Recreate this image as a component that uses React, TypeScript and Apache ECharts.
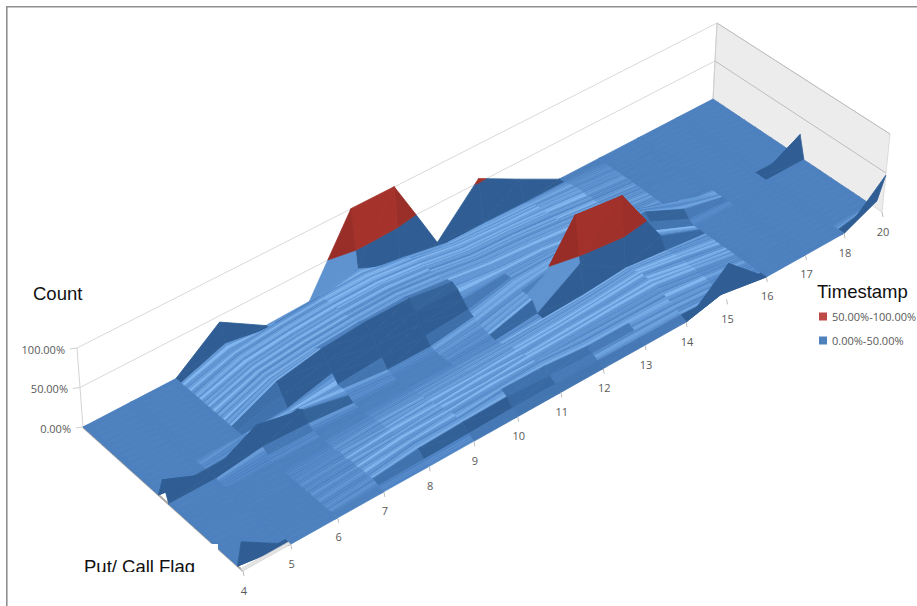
import React, { useEffect, useRef } from "react";
import * as echarts from "echarts";

const timestamps = [4, 5, 6, 7, 8, 9, 10, 11, 12, 13, 14, 15, 16, 17, 18, 20];
const countTicks = ["0.00%", "50.00%", "100.00%"];
const countValues = [0, 50, 100];
const legendNames = ["50.00%-100.00%", "0.00%-50.00%"];

// Surface height (percent), one row per Put/Call flag step from the back edge to the front edge.
const heights: number[][] = [
  [0, 0, 0, 42, 8, 10, 100, 100, 0, 55, 27, 0, 0, 0, 0, 0],
  [0, 0, 0, 20, 10, 12, 28, 3, 1, 2, 1, 1, 0, 0, 0, 0],
  [0, 0, 0, 16, 22, 26, 28, 20, 10, 8, 6, 3, 0, 0, 0, 0],
  [0, 0, 0, 18, 24, 28, 29, 23, 13, 10, 8, 5, 0, 0, 0, 0],
  [0, 0, 0, 20, 26, 30, 31, 25, 16, 12, 10, 6, 1, 0, 0, 0],
  [0, 0, 0, 17, 24, 28, 29, 24, 15, 13, 9, 4, 0, 0, 0, 0],
  [0, 0, 0, 20, 27, 31, 33, 27, 18, 16, 12, 6, 1, 0, 0, 0],
  [0, 0, 0, 18, 25, 29, 30, 26, 17, 15, 10, 5, 0, 0, 0, 0],
  [0, 0, 0, 22, 29, 33, 35, 29, 21, 18, 13, 7, 1, 0, 0, 0],
  [0, 0, 0, 20, 27, 31, 33, 27, 20, 17, 12, 6, 0, 0, 0, 0],
  [0, 0, 0, 24, 33, 37, 38, 32, 24, 20, 15, 7, 0, 0, 0, 0],
  [0, 0, 0, 26, 37, 42, 42, 34, 26, 22, 15, 5, 0, 0, 0, 0],
  [0, 0, 0, 14, 27, 32, 30, 30, 25, 24, 16, 6, 0, 0, 0, 0],
  [0, 0, 0, 3, 17, 22, 20, 22, 26, 25, 19, 8, 0, 0, 0, 0],
  [0, 0, 8, 6, 8, 12, 10, 14, 26, 27, 22, 8, 2, 0, 0, 0],
  [0, 0, 2, 14, 8, 2, 2, 10, 24, 28, 30, 35, 18, 0, 0, 0],
  [25, 0, 30, 18, 5, 0, 0, 8, 20, 30, 34, 36, 12, 0, 0, 28],
  [0, 0, 8, 6, 1, 0, 0, 5, 20, 50, 62, 28, 4, 0, 0, 0],
  [0, 0, 3, 2, 0, 0, 0, 3, 18, 98, 90, 22, 0, 0, 0, 0],
  [0, 0, 0, 0, 0, 0, 0, 1, 6, 40, 100, 20, 0, 0, 0, 0],
  [0, 0, 0, 0, 1, 2, 3, 3, 5, 7, 12, 6, 0, 0, 0, 0],
  [0, 0, 0, 2, 3, 4, 5, 6, 8, 11, 16, 9, 0, 0, 0, 0],
  [0, 0, 0, 1, 5, 5, 7, 8, 10, 13, 18, 9, 0, 0, 0, 0],
  [0, 0, 0, 4, 4, 8, 8, 11, 12, 16, 20, 11, 0, 0, 0, 0],
  [0, 0, 0, 2, 7, 7, 11, 10, 15, 15, 19, 8, 0, 0, 0, 0],
  [0, 0, 0, 5, 6, 11, 10, 14, 14, 17, 18, 10, 0, 0, 0, 0],
  [0, 0, 0, 3, 10, 10, 14, 13, 16, 15, 16, 7, 0, 0, 0, 0],
  [0, 0, 0, 6, 9, 14, 13, 18, 14, 14, 14, 8, 0, 0, 0, 0],
  [0, 0, 0, 4, 13, 13, 18, 17, 12, 12, 10, 5, 0, 0, 0, 0],
  [0, 0, 0, 5, 11, 13, 14, 10, 8, 8, 7, 3, 0, 0, 0, 0],
  [0, 0, 0, 2, 3, 4, 5, 5, 5, 4, 4, 1, 0, 0, 0, 10],
  [37, 0, 0, 0, 0, 0, 0, 0, 0, 0, 0, 46, 0, 0, 0, 47],
];

// Light streaks along the timestamp direction, read as brightness steps across the surface.
const streakTones = [
  0.2, 0.55, 0.1, 0.35, 0.95, 0.3, 0.15, 0.45, 0.8, 0.25, 0.05, 0.4, 0.65, 0.2, 1, 0.35, 0.1, 0.5, 0.25,
  0.75, 0.15, 0.3, 0.9, 0.4, 0.05, 0.6, 0.2, 0.35, 0.85, 0.1, 0.45, 0.25, 0.7, 0.15, 0.5, 1, 0.3,
];
const streakBreaksOdd = [0, 0, 0, 0, 0, 3, 3, 3, 3, 3, 7, 7, 7, 7, 7, 7];
const streakBreaksEven = [0, 0, 0, 0, 0, 0, 0, 5, 5, 5, 5, 5, 5, 5, 5, 5];

const colCount = timestamps.length;
const rowCount = heights.length;

// Scene: floor corners and the 100% height vector at each corner.
const A = [83, 427];
const B = [243, 571];
const C = [882, 212];
const D = [713, 99];
const upA = [-6, -79];
const upB = [-5, -79];
const upC = [8, -78];
const upD = [4, -76];

const dx1 = D[0] - C[0], dx2 = B[0] - C[0], sx = A[0] - D[0] + C[0] - B[0];
const dy1 = D[1] - C[1], dy2 = B[1] - C[1], sy = A[1] - D[1] + C[1] - B[1];
const den = dx1 * dy2 - dx2 * dy1;
const hg = (sx * dy2 - dx2 * sy) / den;
const hh = (dx1 * sy - sx * dy1) / den;
const ha = D[0] - A[0] + hg * D[0], hb = B[0] - A[0] + hh * B[0];
const hd = D[1] - A[1] + hg * D[1], he = B[1] - A[1] + hh * B[1];

function project(i: number, j: number, h: number) {
  const u = i / (colCount - 1);
  const v = j / (rowCount - 1);
  const w = hg * u + hh * v + 1;
  const x = (ha * u + hb * v + A[0]) / w;
  const y = (hd * u + he * v + A[1]) / w;
  const ux = upA[0] * (1 - u) * (1 - v) + upD[0] * u * (1 - v) + upB[0] * (1 - u) * v + upC[0] * u * v;
  const uy = upA[1] * (1 - u) * (1 - v) + upD[1] * u * (1 - v) + upB[1] * (1 - u) * v + upC[1] * u * v;
  return [x + (ux * h) / 100, y + (uy * h) / 100];
}

const mix = (a: number[], b: number[], t: number) => a.map((c, k) => Math.round(c + (b[k] - c) * t));
const css = (c: number[]) => `rgb(${c[0]},${c[1]},${c[2]})`;
const flat = [76, 128, 190];
const bright = [128, 182, 240];
const dark = [48, 94, 148];
const red = [168, 52, 44];

function slopes(i: number, j: number) {
  const a = (heights[j][i + 1] + heights[j + 1][i + 1] - heights[j][i] - heights[j + 1][i]) / 2;
  const b = (heights[j + 1][i] + heights[j + 1][i + 1] - heights[j][i] - heights[j][i + 1]) / 2;
  return [a, b];
}

function cellShade(i: number, j: number, isRed: boolean) {
  const [a, b] = slopes(i, j);
  if (isRed) return css(mix(red, [146, 42, 38], Math.min(1, Math.abs(a) / 80)));
  if (a > 50 && a > 1.5 * Math.abs(b)) return css(mix(flat, bright, 0.35));
  if (b <= -4) return css(mix(flat, dark, Math.min(1, (-b - 3) / 6)));
  if (b > 11) return css(dark);
  if (a < 0) return css(mix(flat, dark, Math.min(0.35, -a / 40)));
  return css(flat);
}

function clipBand(poly: number[][], keepAbove: boolean) {
  const out: number[][] = [];
  const inside = (p: number[]) => (keepAbove ? p[2] >= 50 : p[2] <= 50);
  for (let k = 0; k < poly.length; k++) {
    const p = poly[k];
    const q = poly[(k + 1) % poly.length];
    if (inside(p)) out.push(p);
    if (inside(p) !== inside(q)) {
      const t = (50 - p[2]) / (q[2] - p[2]);
      out.push([p[0] + (q[0] - p[0]) * t, p[1] + (q[1] - p[1]) * t, 50]);
    }
  }
  return out;
}

function cellTriangles(i: number, j: number) {
  const a = [i, j, heights[j][i]];
  const b = [i + 1, j, heights[j][i + 1]];
  const c = [i + 1, j + 1, heights[j + 1][i + 1]];
  const d = [i, j + 1, heights[j + 1][i]];
  return Math.abs(a[2] - c[2]) <= Math.abs(b[2] - d[2])
    ? [[a, b, c], [a, c, d]]
    : [[a, b, d], [b, c, d]];
}

const cells: number[][] = [];
for (let j = 0; j < rowCount - 1; j++) for (let i = colCount - 2; i >= 0; i--) cells.push([i, j]);

export default function App() {
  const ref = useRef<HTMLDivElement>(null);
  useEffect(() => {
    document.body.style.margin = "0";
    document.body.style.background = "#fff";
    const chart = echarts.init(ref.current!, undefined, { renderer: "svg" });
    const toPx = (api: any, p: number[]) => api.coord(p);
    const poly3 = (api: any, pts: number[][]) =>
      pts.map((t) => toPx(api, project(t[0], t[1], t[2])));
    const line = (a: number[], b: number[], color: string, width = 1) => ({
      type: "line",
      shape: { x1: a[0], y1: a[1], x2: b[0], y2: b[1] },
      style: { stroke: color, lineWidth: width },
    });
    const text = (s: string, x: number, y: number, align: string) => ({
      type: "text",
      style: { text: s, x, y, align, verticalAlign: "middle", fill: "#595959", font: '11px "Open Sans"' },
    });
    const last = colCount - 1;
    const lastRow = rowCount - 1;

    const option: any = {
      animation: false,
      backgroundColor: "#fff",
      grid: { left: 0, right: 0, top: 0, bottom: 0 },
      xAxis: { type: "value", min: 0, max: 917, show: false },
      yAxis: { type: "value", min: 0, max: 606, inverse: true, show: false },
      legend: {
        orient: "vertical",
        left: 814,
        top: 306,
        itemWidth: 8,
        itemHeight: 8,
        itemGap: 13,
        selectedMode: false,
        data: legendNames.map((name) => ({ name, icon: "rect" })),
        textStyle: { fontFamily: "Open Sans", fontSize: 11, color: "#595959" },
      },
      graphic: [
        { type: "rect", z: 10, shape: { x: 90, y: 544, width: 128, height: 46 }, style: { fill: "#fff" } },
        { type: "rect", z: 10, shape: { x: 6, y: 6, width: 911, height: 1.6 }, style: { fill: "#8f8f8f" } },
        { type: "rect", z: 10, shape: { x: 6, y: 6, width: 1.6, height: 600 }, style: { fill: "#8f8f8f" } },
        { type: "text", z: 11, style: { text: "Count", x: 33, y: 293, fill: "#111", font: '18.5px "Liberation Sans"', verticalAlign: "middle" } },
        { type: "text", z: 11, style: { text: "Timestamp", x: 817, y: 291, fill: "#111", font: '18.5px "Liberation Sans"', verticalAlign: "middle" } },
        { type: "text", z: 11, style: { text: "Put/ Call Flag", x: 84, y: 566, fill: "#111", font: '18.5px "Liberation Sans"', verticalAlign: "middle" } },
        { type: "rect", z: 12, shape: { x: 84, y: 572, width: 134, height: 12 }, style: { fill: "#fff" } },
      ],
      series: [
        {
          name: "walls",
          type: "custom",
          coordinateSystem: "cartesian2d",
          clip: false,
          silent: true,
          z: 1,
          data: [[0, 0]],
          renderItem: (_: any, api: any) => {
            const children: any[] = [];
            children.push({
              type: "polygon",
              shape: { points: poly3(api, [[last, 0, 0], [last, 0, 100], [last, lastRow, 100], [last, lastRow, 0]]) },
              style: { fill: "#ececec", stroke: "#d4d4d4", lineWidth: 0.8 },
            });
            for (const h of countValues) {
              const back0 = toPx(api, project(0, 0, h));
              const back1 = toPx(api, project(last, 0, h));
              const right = toPx(api, project(last, lastRow, h));
              if (h > 0) {
                children.push(line(back0, back1, "#d9d9d9"));
                children.push(line(back1, right, "#bdbdbd"));
              }
              children.push(line([back0[0] - 7, back0[1] + 1], back0, "#cfcfcf"));
            }
            children.push(line(toPx(api, project(0, 0, 0)), toPx(api, project(0, 0, 100)), "#d4d4d4"));
            children.push(line(toPx(api, project(last, 0, 0)), toPx(api, project(last, 0, 100)), "#cfcfcf"));
            children.push(line(toPx(api, project(0, 0, 0)), toPx(api, project(0, lastRow, 0)), "#a9a5a0", 2));
            return { type: "group", children };
          },
        },
        {
          name: "surface",
          type: "custom",
          coordinateSystem: "cartesian2d",
          clip: false,
          silent: true,
          z: 2,
          data: cells,
          renderItem: (_: any, api: any) => {
            const i = api.value(0);
            const j = api.value(1);
            const children: any[] = [];
            const h00 = heights[j][i], h10 = heights[j][i + 1], h01 = heights[j + 1][i], h11 = heights[j + 1][i + 1];
            const [, b] = slopes(i, j);
            const avg = (h00 + h10 + h01 + h11) / 4;
            const top = Math.max(h00, h10, h01, h11);
            const strength = Math.min(1, avg / 6);
            if (strength > 0.12 && b > -4 && b <= 11 && top < 40) {
              const breaks = j % 2 ? streakBreaksOdd : streakBreaksEven;
              for (let s = 0; s < 3; s++) {
                const t0 = s / 3, t1 = (s + 1) / 3;
                const tone = streakTones[(j * 3 + s + breaks[i]) % streakTones.length];
                const fill = css(mix([74, 127, 193], bright, Math.min(1, (tone + 0.12) * strength)));
                const pts = [
                  [i, j + t0, h00 + (h01 - h00) * t0],
                  [i + 1, j + t0, h10 + (h11 - h10) * t0],
                  [i + 1, j + t1, h10 + (h11 - h10) * t1],
                  [i, j + t1, h00 + (h01 - h00) * t1],
                ];
                children.push({
                  type: "polygon",
                  shape: { points: poly3(api, pts) },
                  style: { fill, stroke: fill, lineWidth: 0.5 },
                });
              }
              return { type: "group", children };
            }
            const lowFill = cellShade(i, j, false);
            const highFill = cellShade(i, j, true);
            for (const tri of cellTriangles(i, j)) {
              const low = clipBand(tri, false);
              const high = clipBand(tri, true);
              if (low.length >= 3) {
                children.push({
                  type: "polygon",
                  shape: { points: poly3(api, low) },
                  style: { fill: lowFill, stroke: lowFill, lineWidth: 0.8 },
                });
              }
              if (high.length >= 3) {
                children.push({
                  type: "polygon",
                  shape: { points: poly3(api, high) },
                  style: { fill: highFill, stroke: highFill, lineWidth: 0.8 },
                });
              }
            }
            return { type: "group", children };
          },
        },
        {
          name: "front strip",
          type: "custom",
          coordinateSystem: "cartesian2d",
          clip: false,
          silent: true,
          z: 3,
          data: [[0, 0]],
          renderItem: (_: any, api: any) => ({
            type: "polygon",
            shape: { points: poly3(api, [[0, lastRow, 0], [1, lastRow, 0], [1, lastRow - 0.45, 0], [0, lastRow - 0.45, 0]]) },
            style: { fill: "#e4e4e4", stroke: "#cfcfcf", lineWidth: 0.6 },
          }),
        },
        {
          name: "timestamp ticks",
          type: "custom",
          coordinateSystem: "cartesian2d",
          clip: false,
          silent: true,
          z: 3,
          data: timestamps.map((t, i) => [i, t]),
          renderItem: (_: any, api: any) => {
            const i = api.value(0);
            const base = toPx(api, project(i, lastRow, 0));
            return {
              type: "group",
              children: [
                line(base, [base[0] + 1, base[1] + 5], "#bdbdbd"),
                text(String(api.value(1)), base[0] + 1, base[1] + 19, "center"),
              ],
            };
          },
        },
        {
          name: "count ticks",
          type: "custom",
          coordinateSystem: "cartesian2d",
          clip: false,
          silent: true,
          z: 3,
          data: countValues.map((v, k) => [v, k]),
          renderItem: (_: any, api: any) => {
            const base = toPx(api, project(0, 0, api.value(0)));
            return text(countTicks[api.value(1)], base[0] - 12, base[1] + 1, "right");
          },
        },
        { name: legendNames[0], type: "custom", coordinateSystem: "cartesian2d", data: [], itemStyle: { color: "#BE4B48" }, renderItem: () => null },
        { name: legendNames[1], type: "custom", coordinateSystem: "cartesian2d", data: [], itemStyle: { color: "#4F81BD" }, renderItem: () => null },
      ],
    };
    chart.setOption(option);
    return () => chart.dispose();
  }, []);
  return <div ref={ref} style={{ width: 917, height: 606 }} />;
}
